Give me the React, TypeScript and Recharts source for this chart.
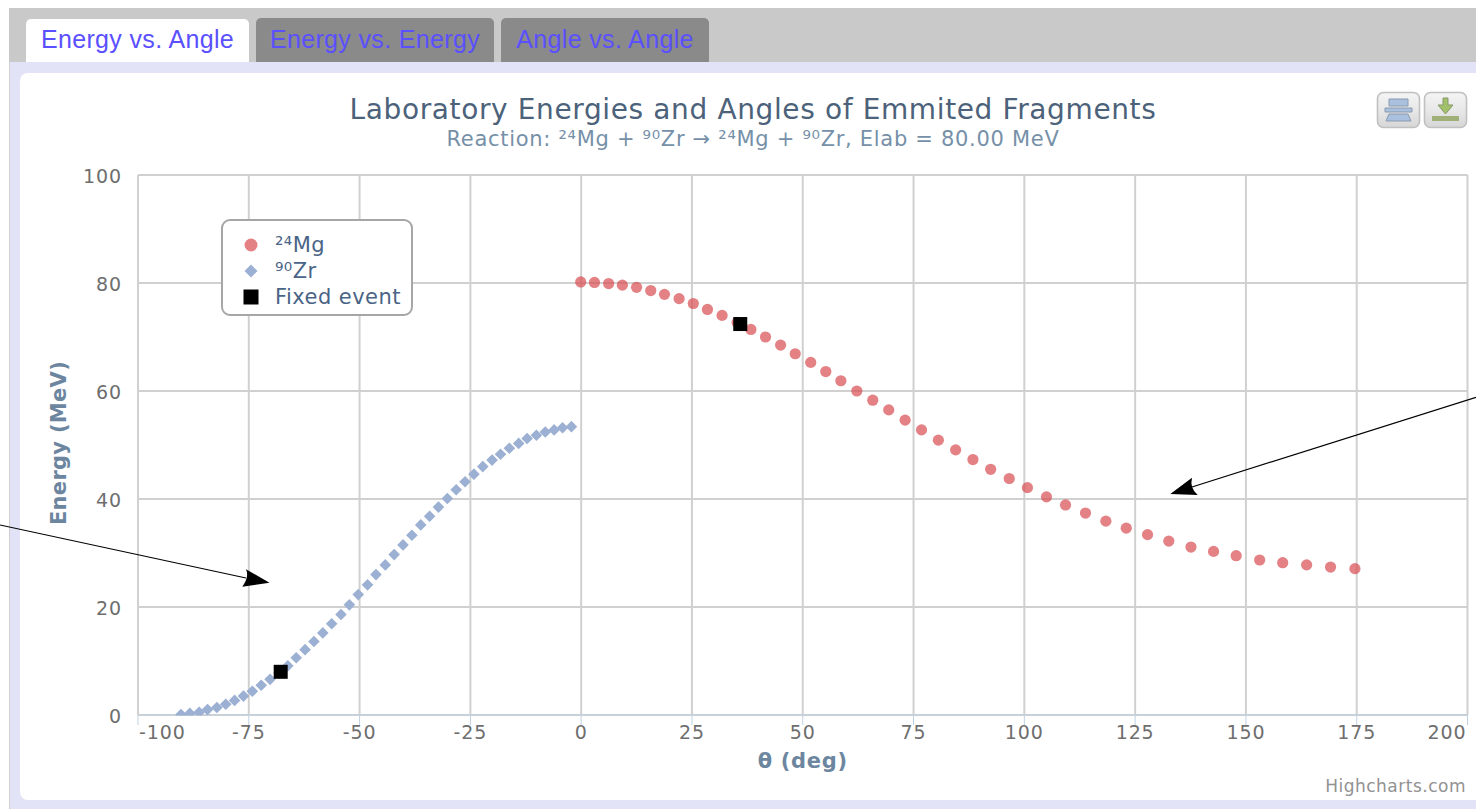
import { ScatterChart, Scatter, XAxis, YAxis, CartesianGrid } from "recharts";

const X_TICKS = [-100, -75, -50, -25, 0, 25, 50, 75, 100, 125, 150, 175, 200];
const Y_TICKS = [0, 20, 40, 60, 80, 100];
const TABS = ["Energy vs. Angle", "Energy vs. Energy", "Angle vs. Angle"];

const MG_ANGLE = [
  -0.1, 3.0, 6.2, 9.3, 12.5, 15.7, 18.8, 22.1, 25.3, 28.5, 31.8, 35.2, 38.3, 41.6, 45.0, 48.3, 51.8, 55.2, 58.6, 62.2, 65.8,
  69.4, 73.1, 76.8, 80.6, 84.5, 88.4, 92.4, 96.6, 100.7, 105.0, 109.3, 113.8, 118.4, 123.0, 127.8, 132.6, 137.6, 142.7,
  147.8, 153.1, 158.3, 163.7, 169.1, 174.6,
];
const MG_ENERGY = [
  80.2, 80.1, 79.9, 79.6, 79.2, 78.6, 77.9, 77.1, 76.2, 75.1, 74.0, 72.7, 71.4, 70.0, 68.5, 66.9, 65.3, 63.6, 61.9, 60.0,
  58.3, 56.5, 54.6, 52.8, 50.9, 49.1, 47.3, 45.5, 43.8, 42.1, 40.4, 38.9, 37.4, 35.9, 34.6, 33.4, 32.2, 31.1, 30.3, 29.5,
  28.7, 28.2, 27.8, 27.4, 27.1,
];
const ZR_ANGLE = [
  -90.3, -88.3, -86.2, -84.3, -82.2, -80.2, -78.2, -76.2, -74.2, -72.2, -70.2, -68.2, -66.2, -64.3, -62.3, -60.3, -58.3,
  -56.3, -54.2, -52.3, -50.3, -48.2, -46.3, -44.2, -42.2, -40.2, -38.2, -36.2, -34.2, -32.2, -30.2, -28.2, -26.2, -24.2,
  -22.2, -20.1, -18.2, -16.2, -14.1, -12.2, -10.1, -8.1, -6.1, -4.2, -2.2,
];
const ZR_ENERGY = [
  0.1, 0.3, 0.5, 1.0, 1.4, 2.0, 2.7, 3.5, 4.4, 5.5, 6.6, 7.8, 9.1, 10.6, 12.1, 13.6, 15.2, 16.9, 18.6, 20.4, 22.3, 24.1,
  26.0, 27.8, 29.7, 31.5, 33.3, 35.2, 36.8, 38.5, 40.1, 41.7, 43.2, 44.6, 46.0, 47.2, 48.3, 49.4, 50.3, 51.2, 51.8, 52.4,
  52.8, 53.2, 53.4,
];
const FIXED_ANGLE = [35.9, -67.8];
const FIXED_ENERGY = [72.4, 8.0];

const zip = (xs: number[], ys: number[]) => xs.map((x, i) => ({ x, y: ys[i] }));

const PLOT_BOTTOM = 715.5;
const MG_COLOR = "rgba(214,72,78,0.69)";
const ZR_COLOR = "#9bb0d2";
const FONT = "'DejaVu Sans', sans-serif";
const TICK_STYLE = { fill: "#6e6e6e", fontSize: 19, letterSpacing: 0.9, fontFamily: FONT };

const Dot = ({ cx, cy }: any) => <circle cx={cx} cy={cy} r={5.6} fill={MG_COLOR} />;

// highcharts clips the markers at the plot edge, the first few diamonds get cut off
const Diamond = ({ cx, cy }: any) => {
  const r = 5.8;
  const over = cy + r - PLOT_BOTTOM;
  const points =
    over > 0
      ? `${cx},${cy - r} ${cx + r},${cy} ${cx + over},${PLOT_BOTTOM} ${cx - over},${PLOT_BOTTOM} ${cx - r},${cy}`
      : `${cx},${cy - r} ${cx + r},${cy} ${cx},${cy + r} ${cx - r},${cy}`;
  return <polygon points={points} fill={ZR_COLOR} />;
};

const Square = ({ cx, cy }: any) => <rect x={cx - 7} y={cy - 7} width={14} height={14} fill="#000" />;

// first and last labels are pushed inside the plot, like highcharts does
const XTick = ({ x, y, payload }: any) => {
  const first = payload.value === X_TICKS[0];
  const last = payload.value === X_TICKS[X_TICKS.length - 1];
  return (
    <text x={first ? x + 1 : last ? x - 1 : x} y={y + 13} textAnchor={first ? "start" : last ? "end" : "middle"} {...TICK_STYLE}>
      {payload.value}
    </text>
  );
};

const LEGEND_ITEMS = [
  { name: "²⁴Mg", icon: <circle cx={10} cy={10} r={6.5} fill={MG_COLOR} /> },
  { name: "⁹⁰Zr", icon: <polygon points="10,3.5 16.5,10 10,16.5 3.5,10" fill={ZR_COLOR} /> },
  { name: "Fixed event", icon: <rect x={2.5} y={2.5} width={15} height={15} fill="#000" /> },
];

function Legend() {
  return (
    <div
      style={{
        position: "absolute",
        left: 221,
        top: 219,
        width: 188,
        height: 93,
        border: "2px solid #a6a6a6",
        borderRadius: 9,
        background: "#fff",
      }}
    >
      {LEGEND_ITEMS.map((item, i) => (
        <div key={item.name} style={{ position: "absolute", left: 18, top: 11 + i * 26, height: 26, display: "flex", alignItems: "center" }}>
          <svg width={20} height={20} style={{ display: "block" }}>
            {item.icon}
          </svg>
          <span style={{ marginLeft: 14, fontFamily: FONT, fontSize: 21, letterSpacing: 0.45, color: "#4a6486", whiteSpace: "nowrap" }}>{item.name}</span>
        </div>
      ))}
    </div>
  );
}

function Tabs() {
  const lefts = [26, 256, 501];
  const widths = [223, 238, 208];
  return (
    <>
      {TABS.map((t, i) => (
        <div
          key={t}
          style={{
            position: "absolute",
            left: lefts[i],
            top: i === 0 ? 19 : 18,
            width: widths[i],
            height: i === 0 ? 43 : 44,
            background: i === 0 ? "#fff" : "#8a8a8a",
            borderRadius: "5px 5px 0 0",
            color: "#5b50ff",
            fontFamily: "'Liberation Sans', sans-serif",
            fontSize: 25,
            letterSpacing: 0.35,
            lineHeight: i === 0 ? "41px" : "43px",
            textAlign: "center",
            whiteSpace: "nowrap",
          }}
        >
          {t}
        </div>
      ))}
    </>
  );
}

function ExportButtons() {
  return (
    <svg style={{ position: "absolute", left: 1370, top: 85 }} width={106} height={50}>
      <defs>
        <linearGradient id="btn" x1="0" y1="0" x2="0" y2="1">
          <stop offset="0" stopColor="#f4f4f4" />
          <stop offset="0.5" stopColor="#e8e8e8" />
          <stop offset="1" stopColor="#d6d6d6" />
        </linearGradient>
      </defs>
      <rect x={7.5} y={7.5} width={42} height={35} rx={6} fill="url(#btn)" stroke="#c0c0c0" strokeWidth={1.6} />
      <rect x={54.5} y={7.5} width={42} height={35} rx={6} fill="url(#btn)" stroke="#c0c0c0" strokeWidth={1.6} />
      <path d="M19 14 H38 V21 H19 Z M15 23 H42 V27 H15 Z M19 29 H38 L41 36 H16 Z" fill="#a9c0de" stroke="#8a9ab0" strokeWidth={1} />
      <path d="M73 13 H78 V20 H83 L75.5 29 L68 20 H73 Z" fill="#a3c06a" stroke="#88996a" strokeWidth={1} />
      <rect x={62} y={31} width={27} height={5} fill="#a0b078" />
    </svg>
  );
}

function Arrows() {
  return (
    <svg style={{ position: "absolute", left: 0, top: 0, pointerEvents: "none" }} width={1476} height={809}>
      <line x1={0} y1={525} x2={246} y2={578} stroke="#000" strokeWidth={1.2} />
      <path d="M269.5 582.7 L246 569.3 Q249.5 577 242.3 586.7 Z" fill="#000" />
      <line x1={1476} y1={397.3} x2={1192} y2={487} stroke="#000" strokeWidth={1.2} />
      <path d="M1170.3 494 L1192 477.7 Q1189.5 488 1197.7 495 Z" fill="#000" />
    </svg>
  );
}

export default function App() {
  return (
    <div style={{ position: "absolute", left: 0, top: 0, width: 1476, height: 809, overflow: "hidden", background: "#fff" }}>
      <div style={{ position: "absolute", left: 9, top: 8, width: 1467, height: 54, background: "#c9c9c9" }} />
      <div style={{ position: "absolute", left: 9, top: 62, width: 1467, height: 747, background: "#e3e3f8", borderLeft: "1.5px solid #cfcfcf", boxSizing: "border-box" }} />
      <div style={{ position: "absolute", left: 20, top: 73, width: 1456, height: 727, background: "#fff", borderRadius: "8px 0 0 8px" }} />
      <Tabs />

      <div style={{ position: "absolute", left: 20, width: 1466, top: 93, textAlign: "center", fontFamily: FONT, fontSize: 28, letterSpacing: 0.62, lineHeight: "34px", color: "#4c627a", whiteSpace: "nowrap" }}>
        Laboratory Energies and Angles of Emmited Fragments
      </div>
      <div style={{ position: "absolute", left: 20, width: 1466, top: 125, textAlign: "center", fontFamily: FONT, fontSize: 21, letterSpacing: 0.7, lineHeight: "28px", color: "#7690a8", whiteSpace: "nowrap" }}>
        Reaction: ²⁴Mg + ⁹⁰Zr → ²⁴Mg + ⁹⁰Zr, Elab = 80.00 MeV
      </div>

      <div style={{ position: "absolute", left: 0, top: 0 }}>
        <ScatterChart width={1476} height={809} margin={{ top: 175, right: 8.5, bottom: 34, left: 78 }}>
          <CartesianGrid stroke="#d0d0d0" strokeWidth={2} />
          <XAxis
            type="number"
            dataKey="x"
            domain={[-100, 200]}
            ticks={X_TICKS}
            interval={0}
            height={60}
            tickSize={10}
            tickMargin={1}
            stroke="#c0d0e0"
            tick={XTick}
            label={{ value: "θ (deg)", position: "insideBottom", offset: 7, style: { fill: "#6d869f", fontSize: 21, letterSpacing: 0.7, fontWeight: "bold", fontFamily: FONT } }}
          />
          <YAxis
            type="number"
            dataKey="y"
            domain={[0, 100]}
            ticks={Y_TICKS}
            interval={0}
            width={60}
            axisLine={false}
            tickLine={false}
            tickSize={0}
            tickMargin={16}
            tick={{ ...TICK_STYLE, dy: 1 }}
            label={{ value: "Energy (MeV)", angle: -90, position: "insideLeft", offset: -19, dy: -2, style: { textAnchor: "middle", fill: "#6d869f", fontSize: 21, letterSpacing: 0.3, fontWeight: "bold", fontFamily: FONT } }}
          />
          <Scatter name="²⁴Mg" data={zip(MG_ANGLE, MG_ENERGY)} shape={Dot} isAnimationActive={false} />
          <Scatter name="⁹⁰Zr" data={zip(ZR_ANGLE, ZR_ENERGY)} shape={Diamond} isAnimationActive={false} />
          <Scatter name="Fixed event" data={zip(FIXED_ANGLE, FIXED_ENERGY)} shape={Square} isAnimationActive={false} />
        </ScatterChart>
      </div>

      <Legend />
      <ExportButtons />
      <div style={{ position: "absolute", right: 10, top: 776, fontFamily: FONT, fontSize: 17, letterSpacing: 0.5, color: "#929292" }}>Highcharts.com</div>
      <Arrows />
    </div>
  );
}
